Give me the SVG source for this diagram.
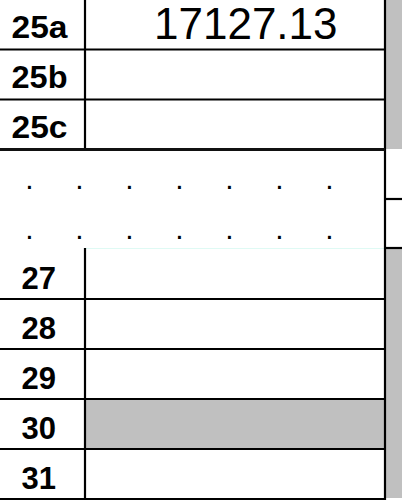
<svg xmlns="http://www.w3.org/2000/svg" width="402" height="502" viewBox="0 0 402 502">
<style>
.lbl{font-family:"Liberation Sans",Arial,Helvetica,sans-serif;font-weight:bold;font-size:31px;fill:#000}
.val{font-family:"Liberation Sans",Arial,Helvetica,sans-serif;font-size:44px;fill:#000}
.dot{font-family:"Liberation Sans",Arial,Helvetica,sans-serif;font-size:30px;fill:#000}
.ln{stroke:#000;stroke-width:2.2;fill:none}
.gray{fill:#c0c0c0}
</style>
<rect x="0" y="0" width="402" height="502" fill="#fff"/>
<g id="shading">
<rect class="gray" x="386" y="0" width="16" height="149"/>
<rect class="gray" x="386" y="249" width="16" height="249"/>
<rect class="gray" x="86" y="400" width="298" height="48"/>
</g>
<g id="grid">
<line x1="86" y1="248.5" x2="384" y2="248.5" stroke="#dffaf4" stroke-width="1"/>
<line class="ln" x1="85" y1="0" x2="85" y2="150"/>
<line class="ln" x1="85" y1="248" x2="85" y2="500"/>
<line class="ln" x1="385" y1="0" x2="385" y2="500"/>
<line class="ln" x1="0" y1="49.5" x2="385" y2="49.5"/>
<line class="ln" x1="0" y1="99.5" x2="385" y2="99.5"/>
<line x1="0" y1="149.5" x2="385" y2="149.5" stroke="#111" stroke-width="3"/>
<line class="ln" x1="385" y1="199" x2="402" y2="199"/>
<line class="ln" x1="385" y1="248" x2="402" y2="248"/>
<line class="ln" x1="0" y1="299" x2="385" y2="299"/>
<line class="ln" x1="0" y1="349" x2="385" y2="349"/>
<line class="ln" x1="0" y1="399" x2="385" y2="399"/>
<line class="ln" x1="0" y1="449" x2="385" y2="449"/>
<line class="ln" x1="0" y1="499" x2="385" y2="499"/>
</g>
<g id="row-25a">
<text class="lbl" x="11.5" y="38.3" textLength="56" lengthAdjust="spacingAndGlyphs">25a</text>
<text class="val" x="154" y="39.3">17127.13</text>
</g>
<g id="row-25b"><text class="lbl" x="11.5" y="88.3" textLength="56" lengthAdjust="spacingAndGlyphs">25b</text></g>
<g id="row-25c"><text class="lbl" x="11.5" y="138.3" textLength="56" lengthAdjust="spacingAndGlyphs">25c</text></g>
<g id="ellipsis">
<text class="dot" x="25.3 75.3 125.3 175.3 225.3 275.3 325.3" y="188.5">.......</text>
<text class="dot" x="25.3 75.3 125.3 175.3 225.3 275.3 325.3" y="238.5">.......</text>
</g>
<g id="row-27"><text class="lbl" x="21.5" y="289">27</text></g>
<g id="row-28"><text class="lbl" x="21.5" y="338.5">28</text></g>
<g id="row-29"><text class="lbl" x="21.5" y="388.5">29</text></g>
<g id="row-30"><text class="lbl" x="21.5" y="438.5">30</text></g>
<g id="row-31"><text class="lbl" x="21.5" y="488.5">31</text></g>
</svg>
